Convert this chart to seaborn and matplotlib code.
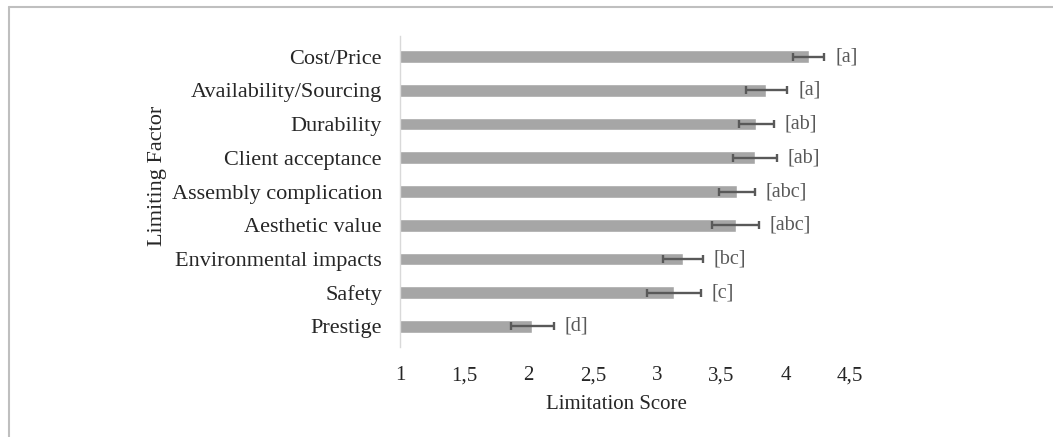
import pandas as pd
import seaborn as sns
import matplotlib
matplotlib.use("Agg")
import matplotlib.pyplot as plt
from matplotlib.lines import Line2D

sns.set_style("white")
plt.rcParams["font.family"] = ["Liberation Serif", "DejaVu Serif"]

factors = ["Cost/Price", "Availability/Sourcing", "Durability", "Client acceptance",
           "Assembly complication", "Aesthetic value", "Environmental impacts",
           "Safety", "Prestige"]
scores = [4.18, 3.85, 3.77, 3.76, 3.62, 3.61, 3.20, 3.13, 2.03]
se = [0.12, 0.16, 0.135, 0.17, 0.14, 0.18, 0.155, 0.21, 0.165]
letters = ["[a]", "[a]", "[ab]", "[ab]", "[abc]", "[abc]", "[bc]", "[c]", "[d]"]
xticks = [1, 1.5, 2, 2.5, 3, 3.5, 4, 4.5]

df = pd.DataFrame({"factor": factors, "score": scores, "se": se, "letter": letters})

fig = plt.figure(figsize=(10.53, 4.37), dpi=100)
ax = fig.add_axes([400/1053, 1-347/437, 450/1053, 311/437])

sns.barplot(data=df, x="score", y="factor", orient="h", color="#a6a6a6",
            saturation=1, width=0.38, errorbar=None, ax=ax)
ax.errorbar(df["score"], range(len(df)), xerr=df["se"], fmt="none",
            ecolor="#595959", elinewidth=1.7, capsize=2.8, capthick=1.7)

for i, row in df.iterrows():
    ax.annotate(row["letter"], (row["score"] + row["se"], i), xytext=(8, 0),
                textcoords="offset points", va="center", ha="left",
                fontsize=14.5, color="#595959", annotation_clip=False)

ax.set_xlim(1, 4.5)
ax.set_xticks(xticks)
ax.set_xticklabels([f"{t:g}".replace(".", ",") for t in xticks], fontsize=15)
ax.tick_params(axis="x", length=0, pad=14)
ax.tick_params(axis="y", length=0, pad=13, labelsize=16)
ax.set_xlabel("Limitation Score", fontsize=15)
ax.set_ylabel("Limiting Factor", fontsize=16)
ax.yaxis.set_label_coords(-0.518, 0.55)
ax.xaxis.set_label_coords(0.48, -0.155)

for s in ["top", "right", "bottom"]:
    ax.spines[s].set_visible(False)
ax.spines["left"].set_color("#d9d9d9")
ax.spines["left"].set_linewidth(1)

# outer chart border (top and left only visible)
fig.add_artist(Line2D([9/1053, 1], [1-7/437, 1-7/437], color="#bfbfbf", lw=1.5))
fig.add_artist(Line2D([9/1053, 9/1053], [0, 1-7/437], color="#bfbfbf", lw=1.5))

fig.savefig("out.png", dpi=100)
